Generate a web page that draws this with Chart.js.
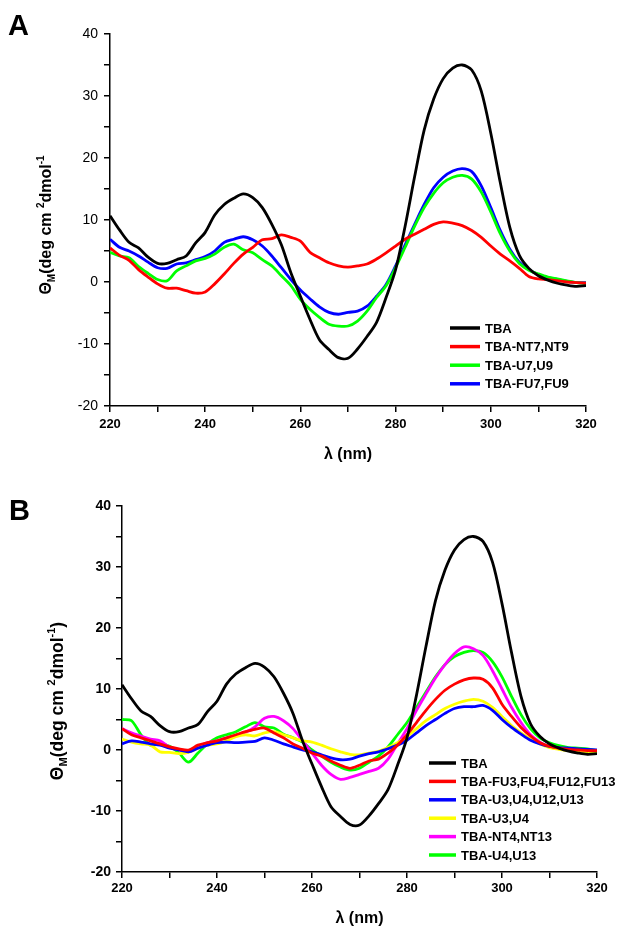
<!DOCTYPE html>
<html>
<head>
<meta charset="utf-8">
<script src="https://cdn.jsdelivr.net/npm/chart.js@4/dist/chart.umd.min.js"></script>
<style>
body { margin:0; background:#fff; width:629px; height:936px; position:relative; overflow:hidden; font-family:"Liberation Sans", Arial, sans-serif; }
.panel { position:absolute; left:0; width:629px; }
.tag { position:absolute; font-weight:bold; font-size:29px; line-height:1; color:#000; }
</style>
</head>
<body>
<div class="panel" style="top:0;height:470px"><canvas id="chartA" width="629" height="470"></canvas></div>
<div class="panel" style="top:470px;height:466px"><canvas id="chartB" width="629" height="466"></canvas></div>
<div class="tag" style="left:8px;top:11px">A</div>
<div class="tag" style="left:9px;top:496px">B</div>
<script>
// wavelength (nm)
const wavelength = [220,222,224,226,228,230,232,234,236,238,240,242,244,246,248,250,252,254,256,258,260,262,264,266,268,270,272,274,276,278,280,282,284,286,288,290,292,294,296,298,300,302,304,306,308,310,312,314,316,318,320];

// molar ellipticity, panel A
const tba = [10.7,8.4,6.4,5.5,4.0,3.0,3.0,3.6,4.2,6.3, 8.0,10.8,12.5,13.5,14.2,13.6,12.0,9.3,6.0,1.5, -2.3,-6.0,-9.3,-10.9,-12.2,-12.3,-10.8,-8.8,-6.5,-2.5, 2.0,9.0,17.0,24.5,29.5,32.8,34.5,35.0,34.2,30.8, 24.0,16.0,8.8,4.3,2.2,1.0,0.3,-0.2,-0.5,-0.7, -0.6];
const nt7nt9 = [5.5,4.3,3.5,2.0,0.8,-0.3,-1.0,-1.0,-1.4,-1.8, -1.6,-0.3,1.3,3.0,4.5,5.6,6.8,7.0,7.6,7.2, 6.6,4.8,3.9,3.1,2.6,2.4,2.6,2.9,3.7,4.7, 5.8,6.9,7.7,8.5,9.3,9.7,9.5,9.1,8.3,7.2, 5.8,4.5,3.4,2.2,0.9,0.5,0.4,0.2,0.0,-0.1, -0.2];
const u7u9 = [4.8,4.2,3.9,2.5,1.4,0.4,0.2,1.8,2.6,3.4, 3.8,4.5,5.6,6.1,5.2,4.7,3.6,2.6,1.0,-0.6, -2.8,-4.4,-5.7,-6.8,-7.1,-7.1,-6.3,-4.7,-2.5,-0.6, 2.3,5.6,9.0,12.0,14.3,16.0,16.9,17.2,16.6,14.5, 11.3,7.8,5.0,3.0,1.9,1.3,0.8,0.5,0.2,-0.1, -0.2];
const fu7fu9 = [6.9,5.6,5.0,4.2,3.2,2.3,2.2,2.9,3.1,3.6, 4.1,5.0,6.4,6.9,7.3,6.8,5.8,4.2,2.3,0.4, -1.3,-2.7,-4.0,-4.9,-5.2,-4.9,-4.7,-3.9,-2.3,-0.4, 2.6,6.0,9.3,12.5,15.2,16.9,17.9,18.3,17.8,15.5, 12.0,8.3,5.3,3.2,2.0,1.2,0.7,0.4,0.1,-0.1, -0.1];

// molar ellipticity, panel B
const fu3fu4fu12fu13 = [3.5,2.5,2.0,1.5,1.0,0.5,0.2,0.0,0.8,1.2, 1.5,2.0,2.5,3.0,3.4,3.6,2.8,2.0,1.0,0.3, -0.5,-1.0,-1.8,-2.5,-3.0,-2.5,-1.8,-1.5,-0.5,0.8, 2.5,4.5,6.5,8.3,9.8,10.8,11.5,11.8,11.6,10.2, 7.5,5.5,3.7,2.3,1.2,0.6,0.3,0.1,0.0,-0.1, -0.1];
const u3u4u12u13 = [1.0,1.5,1.3,1.0,0.8,0.3,0.0,-0.3,0.3,0.8, 1.2,1.3,1.2,1.3,1.4,2.0,1.6,1.0,0.5,0.0, -0.3,-0.8,-1.3,-1.6,-1.5,-1.0,-0.6,-0.3,0.2,0.8, 1.6,2.8,4.0,5.0,6.0,6.8,7.1,7.1,7.3,6.5, 5.0,3.7,2.6,1.6,1.0,0.6,0.4,0.3,0.2,0.1, 0.0];
const u3u4 = [1.8,1.3,1.0,0.8,-0.3,-0.4,-0.6,-0.4,0.3,0.8, 1.0,1.5,2.2,2.5,2.3,2.8,3.0,2.5,2.0,1.5, 1.3,0.8,0.2,-0.3,-0.7,-0.8,-0.5,-0.2,0.4,1.2, 2.2,3.5,4.8,5.8,6.8,7.5,8.0,8.3,8.0,7.0, 5.5,4.0,2.8,1.8,1.0,0.4,0.1,-0.1,-0.2,-0.3, -0.3];
const nt4nt13 = [3.5,2.8,2.3,1.8,1.5,0.5,0.0,-0.3,0.5,1.2, 1.5,2.0,2.3,2.9,3.8,5.2,5.5,4.8,3.5,1.5, -0.5,-2.5,-4.0,-4.8,-4.5,-4.0,-3.5,-3.0,-1.5,1.0, 3.5,6.5,9.2,11.8,14.0,15.8,16.9,16.6,15.5,13.0, 10.0,7.0,4.5,2.5,1.3,0.5,0.2,0.0,-0.2,-0.3, -0.3];
const u4u13 = [5.0,4.8,2.5,0.8,1.0,0.6,-0.5,-2.0,-0.5,1.0, 2.0,2.5,3.0,3.8,4.5,3.8,3.6,2.6,2.0,1.3, 0.0,-1.0,-2.0,-2.8,-3.3,-3.0,-2.0,-1.0,0.5,2.5, 4.5,7.0,9.5,12.0,14.0,15.3,16.0,16.3,16.0,14.5, 12.0,8.8,5.8,3.5,2.0,1.2,0.7,0.4,0.3,0.2, -0.1];

const xTicks = [220, 240, 260, 280, 300, 320];
const yTicks = [-20, -10, 0, 10, 20, 30, 40];

const FONT = '"Liberation Sans", Arial, sans-serif';
Chart.defaults.font.family = FONT;
Chart.defaults.color = '#000';

// legend drawn inside the plot area
function legendPlugin(x1, x2, tx, y0, dy) {
    return {
        id: 'insideLegend',
        afterDatasetsDraw(chart) {
            const ctx = chart.ctx;
            ctx.save();
            ctx.font = 'bold 13px ' + FONT;
            ctx.textBaseline = 'middle';
            chart.data.datasets.forEach((ds, i) => {
                const y = y0 + i * dy;
                ctx.strokeStyle = ds.borderColor;
                ctx.lineWidth = 3.5;
                ctx.beginPath();
                ctx.moveTo(x1, y);
                ctx.lineTo(x2, y);
                ctx.stroke();
                ctx.fillStyle = '#000';
                ctx.fillText(ds.label, tx, y + 1);
            });
            ctx.restore();
        }
    };
}

// rotated y title with sub/superscripts
function yTitlePlugin(parts, size, bx, cy) {
    return {
        id: 'yTitle',
        afterDraw(chart) {
            const ctx = chart.ctx;
            const small = Math.round(size * 0.62);
            const fonts = parts.map(p => 'bold ' + (p[1] ? small : size) + 'px ' + FONT);
            ctx.save();
            ctx.translate(bx, cy);
            ctx.rotate(-Math.PI / 2);
            let total = 0;
            parts.forEach((p, i) => { ctx.font = fonts[i]; total += ctx.measureText(p[0]).width; });
            let x = -total / 2;
            ctx.fillStyle = '#000';
            ctx.textBaseline = 'alphabetic';
            parts.forEach((p, i) => {
                ctx.font = fonts[i];
                const off = p[1] === 'sub' ? size * 0.25 : p[1] === 'sup' ? -size * 0.45 : 0;
                ctx.fillText(p[0], x, off);
                x += ctx.measureText(p[0]).width;
            });
            ctx.restore();
        }
    };
}

function draw_panel(id, series, cfg) {
    const ctx = document.getElementById(id).getContext('2d');
    new Chart(ctx, {
        type: 'line',
        data: {
            datasets: series.map(s => ({
                label: s[0],
                data: wavelength.map((x, i) => ({x: x, y: s[1][i]})),
                borderColor: s[2],
                borderWidth: 2.8,
                pointRadius: 0,
                tension: 0.3,
                fill: false
            }))
        },
        options: {
            responsive: false,
            animation: false,
            devicePixelRatio: 1,
            layout: { padding: { top: cfg.top, right: cfg.right, left: 0, bottom: 0 } },
            plugins: { legend: { display: false }, tooltip: { enabled: false } },
            scales: {
                x: {
                    type: 'linear', min: 220, max: 320,
                    afterFit: s => { s.height = cfg.xh; },
                    ticks: {
                        stepSize: 10, autoSkip: false, maxRotation: 0, padding: cfg.xpad,
                        font: { size: 13, weight: 'bold' },
                        callback: v => xTicks.includes(v) ? String(v) : ''
                    },
                    grid: { drawOnChartArea: false, tickLength: 6, color: '#000', lineWidth: 1.5 },
                    border: { color: '#000', width: 1.5 },
                    title: { display: true, text: 'λ (nm)', font: { size: 16, weight: 'bold' }, padding: { top: 0, bottom: cfg.tpad } }
                },
                y: {
                    min: -20, max: 40,
                    afterFit: s => { s.width = cfg.yw; },
                    ticks: {
                        stepSize: 5, autoSkip: false, padding: cfg.ypad,
                        font: { size: 14, weight: cfg.yweight },
                        callback: v => yTicks.includes(v) ? String(v) : ''
                    },
                    grid: { drawOnChartArea: false, tickLength: 6, color: '#000', lineWidth: 1.5 },
                    border: { color: '#000', width: 1.5 }
                }
            }
        },
        plugins: [
            legendPlugin(cfg.lx1, cfg.lx2, cfg.ltx, cfg.ly0, cfg.ldy),
            yTitlePlugin(cfg.ytitle, cfg.ysize, cfg.ybx, cfg.ycy)
        ]
    });
}

draw_panel('chartA', [
    ['TBA', tba, '#000000'],
    ['TBA-NT7,NT9', nt7nt9, '#ff0000'],
    ['TBA-U7,U9', u7u9, '#00ff00'],
    ['TBA-FU7,FU9', fu7fu9, '#0000ff']
], {
    top: 34, right: 43, xh: 64, yw: 110, xpad: 5, tpad: 6, ypad: 6, yweight: 'normal',
    lx1: 450, lx2: 480, ltx: 485, ly0: 328, ldy: 18.6,
    ytitle: [['Θ', ''], ['M', 'sub'], ['(deg cm ', ''], ['2', 'sup'], ['dmol', ''], ['-1', 'sup']],
    ysize: 16, ybx: 51, ycy: 225
});

draw_panel('chartB', [
    ['TBA', tba, '#000000'],
    ['TBA-FU3,FU4,FU12,FU13', fu3fu4fu12fu13, '#ff0000'],
    ['TBA-U3,U4,U12,U13', u3u4u12u13, '#0000ff'],
    ['TBA-U3,U4', u3u4, '#ffff00'],
    ['TBA-NT4,NT13', nt4nt13, '#ff00ff'],
    ['TBA-U4,U13', u4u13, '#00ff00']
], {
    top: 36, right: 32, xh: 64, yw: 122, xpad: 3, tpad: 8, ypad: 5, yweight: 'bold',
    lx1: 429, lx2: 456, ltx: 461, ly0: 293, ldy: 18.4,
    ytitle: [['Θ', ''], ['M', 'sub'], ['(deg cm ', ''], ['2', 'sup'], ['dmol', ''], ['-1', 'sup'], [')', '']],
    ysize: 17.5, ybx: 63, ycy: 231
});
</script>
</body>
</html>
